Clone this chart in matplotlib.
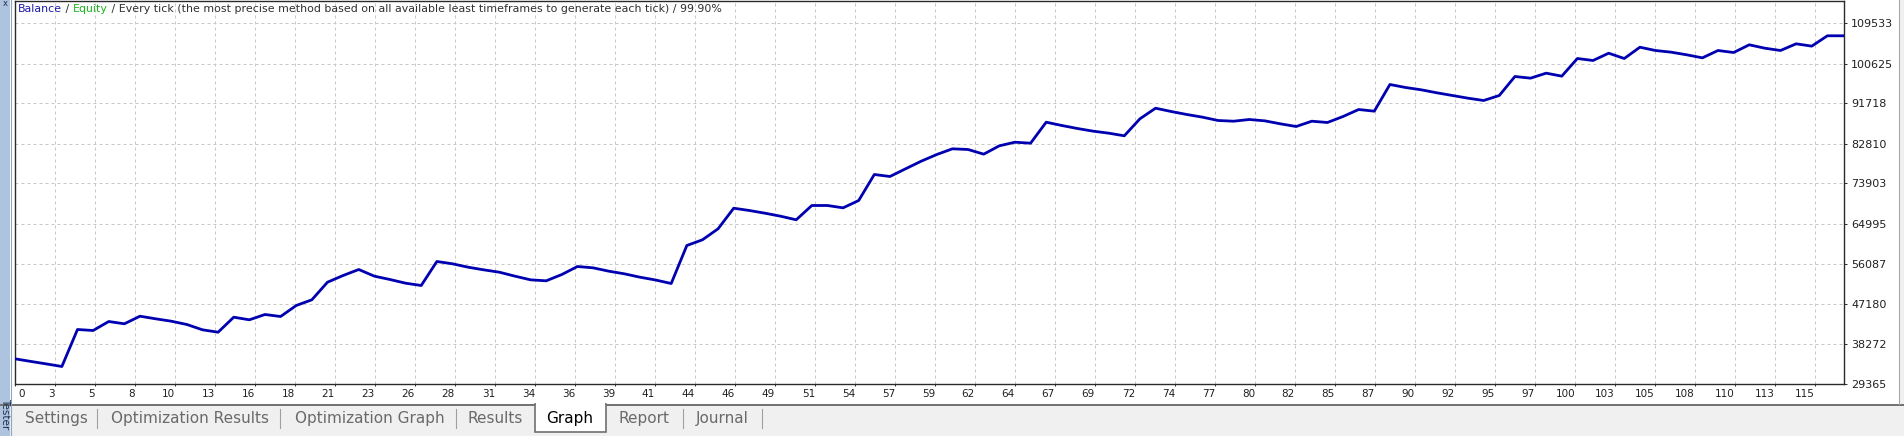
import matplotlib
matplotlib.use('Agg')
import matplotlib.pyplot as plt
import matplotlib.patches as patches
from matplotlib.transforms import ScaledTranslation
import numpy as np

# balance after each trade
balance = [
    34865, 34287, 33730, 33151, 41390, 41168, 43172, 42660, 44352, 43773,
    43239, 42504, 41323, 40789, 44129, 43550, 44731, 44285, 46735, 48004,
    51923, 53415, 54751, 53267, 52524, 51700, 51189, 56533, 56021, 55264,
    54677, 54150, 53267, 52449, 52234, 53638, 55419, 55122, 54380, 53793,
    53037, 52413, 51634, 60096, 61365, 63815, 68402, 67891, 67290, 66621,
    65819, 69004, 69004, 68484, 70118, 75908, 75463, 77175, 78870, 80362,
    81630, 81474, 80437, 82293, 83100, 82878, 87553, 86819, 86151, 85557,
    85112, 84524, 88311, 90670, 89938, 89270, 88677, 87933, 87777, 88155,
    87852, 87184, 86596, 87777, 87486, 88822, 90381, 90009, 95951, 95283,
    94770, 94102, 93500, 92900, 92386, 93500, 97730, 97360, 98473, 97806,
    101738, 101293, 102917, 101738, 104254, 103520, 103148, 102559, 101886, 103520,
    103075, 104790, 104031, 103520, 105011, 104491, 106796, 106796,
]
trade_index = np.arange(len(balance))

x_tick_labels = ['0', '3', '5', '8', '10', '13', '16', '18', '21', '23', '26', '28',
                 '31', '34', '36', '39', '41', '44', '46', '49', '51', '54', '57', '59',
                 '62', '64', '67', '69', '72', '74', '77', '80', '82', '85', '87', '90',
                 '92', '95', '97', '100', '103', '105', '108', '110', '113', '115']
y_tick_values = [29365, 38272, 47180, 56087, 64995, 73903, 82810, 91718, 100625, 109533]

tab_names = ['Settings', 'Optimization Results', 'Optimization Graph', 'Results',
             'Graph', 'Report', 'Journal']
active_tab = 'Graph'

W, H = 1904, 436
fig = plt.figure(figsize=(W / 100, H / 100), dpi=100)
fig.patch.set_facecolor('white')

# pixel-space layer for the terminal window chrome
bg = fig.add_axes([0, 0, 1, 1])
bg.set_xlim(0, W)
bg.set_ylim(H, 0)
bg.axis('off')
bg.set_zorder(0)

bg.add_patch(patches.Rectangle((0, 404), W, H - 404, facecolor='#f0f0f0', edgecolor='none'))
bg.plot([0, W], [404.5, 404.5], color='#707070', lw=1.4)
bg.add_patch(patches.Rectangle((0, 0), 10, H, facecolor='#aec3de', edgecolor='none'))
bg.plot([10.5, 10.5], [0, H], color='#8ea6c6', lw=0.8)
bg.text(5, 4, 'x', ha='center', va='center', fontsize=6, color='#1e2f4a')
bg.text(5, 414, 'Tester', rotation=270, ha='center', va='center', fontsize=7.5, color='#1e2f4a')
bg.add_patch(patches.Rectangle((1899, 0), 5, H, facecolor='#f0f0f0', edgecolor='none'))
bg.plot([1899, 1899], [0, 404], color='#a8a8a8', lw=0.8)

tab_centers = [56, 190, 370, 495, 570, 644, 722]
separators = [97, 280, 456, 683, 762]
for name, cx in zip(tab_names, tab_centers):
    if name == active_tab:
        bg.add_patch(patches.Rectangle((535, 403.5), 71, 28, facecolor='white',
                                       edgecolor='#707070', lw=1.2, zorder=3))
        bg.add_patch(patches.Rectangle((536, 402), 69, 4, facecolor='white',
                                       edgecolor='none', zorder=4))
        bg.text(cx, 418, name, ha='center', va='center', fontsize=11, color='black', zorder=5)
    else:
        bg.text(cx, 418, name, ha='center', va='center', fontsize=11, color='#6a6a6a')
for sx in separators:
    bg.plot([sx, sx], [409, 428], color='#a0a0a0', lw=0.8)

# chart area
px_per_trade = 15.624
left, right, top, bottom = 15, 1844, 1, 383.5
ax = fig.add_axes([left / W, 1 - bottom / H, (right - left) / W, (bottom - top) / H])
ax.set_zorder(2)
ax.set_facecolor('white')

ax.plot(trade_index, balance, color='#0000b0', lw=2.0, solid_joinstyle='round', zorder=3)

ax.set_xlim(0, (right - left) / px_per_trade)
y_step = (y_tick_values[-1] - y_tick_values[0]) / (len(y_tick_values) - 1)
ax.set_ylim(y_tick_values[0], y_tick_values[0] + (bottom - top) / 40 * y_step)

x_positions = np.arange(len(x_tick_labels)) * 40 / px_per_trade
ax.set_xticks(x_positions)
ax.set_xticklabels(x_tick_labels, ha='right')
ax.set_yticks(y_tick_values)
ax.set_yticklabels([str(v) for v in y_tick_values])
ax.yaxis.tick_right()

ax.grid(True, color='#c8c8c8', linestyle=(0, (3, 3)), lw=0.72)
ax.set_axisbelow(True)
for sp in ax.spines.values():
    sp.set_color('#2a2a2a')
    sp.set_linewidth(1.0)

ax.tick_params(axis='x', length=1.5, width=0.7, pad=2.5, labelsize=7.5,
               colors='#2a2a2a', labelcolor='#202020')
ax.tick_params(axis='y', length=2.2, width=0.7, pad=3, labelsize=8,
               colors='#2a2a2a', labelcolor='#202020')
first = ax.get_xticklabels()[0]
first.set_ha('left')
first.set_transform(first.get_transform() + ScaledTranslation(3 / 100, 0, fig.dpi_scale_trans))

# header line: Balance / Equity / model description, drawn on top of the chart
renderer = fig.canvas.get_renderer()
pieces = [('Balance', '#1c1ca8'), (' / ', '#303030'), ('Equity', '#1cb41c'),
          (' / Every tick (the most precise method based on all available least timeframes '
           'to generate each tick) / 99.90%', '#303030')]
x0 = 18
for txt, col in pieces:
    t = ax.text(x0, 9, txt, ha='left', va='center', fontsize=7.9, color=col,
                transform=bg.transData, zorder=6)
    ext = t.get_window_extent(renderer=renderer)
    x0 += ext.width

fig.savefig('out.png', dpi=100)
